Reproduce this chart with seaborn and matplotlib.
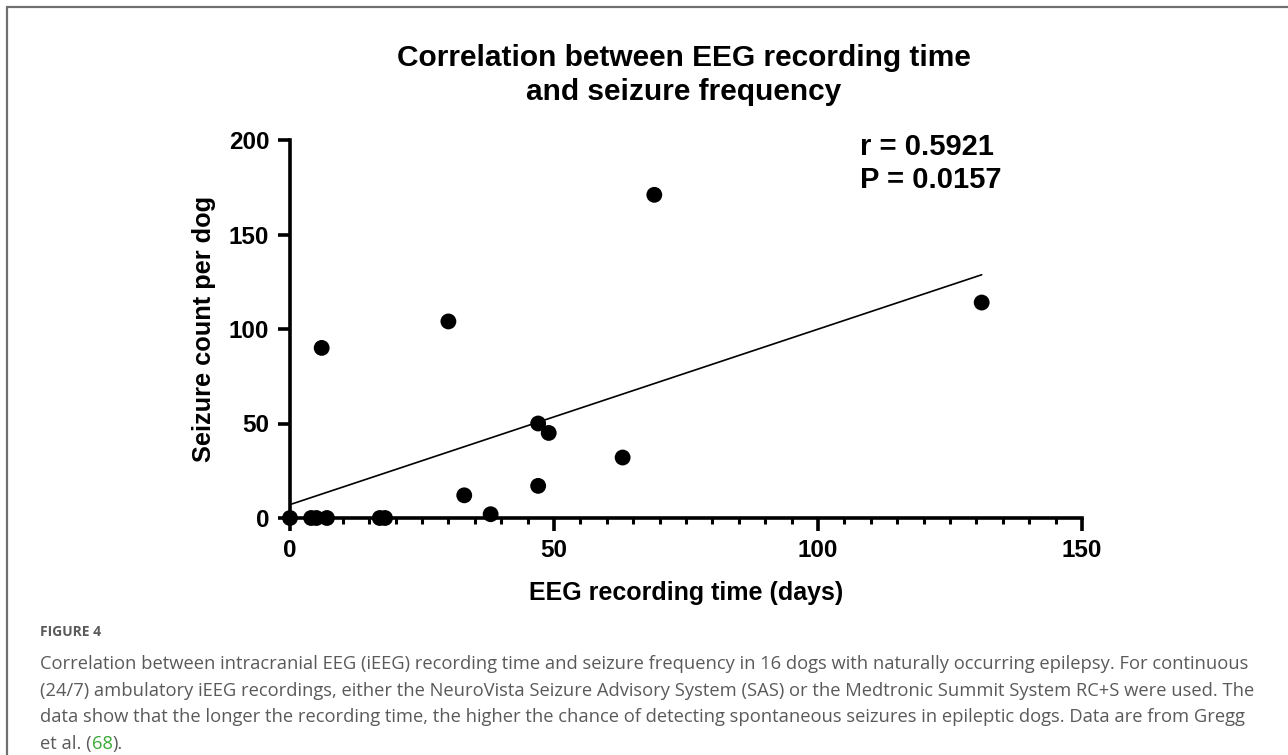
import numpy as np
import pandas as pd
import seaborn as sns
import matplotlib
matplotlib.use("Agg")
import matplotlib.pyplot as plt
from matplotlib.lines import Line2D
from matplotlib.ticker import MultipleLocator

# ---- data ----
recording_days = [0, 4, 5, 7, 17, 18, 6, 30, 33, 38, 47, 49, 47, 63, 69, 131]
seizure_count = [0, 0, 0, 0, 0, 0, 90, 104, 12, 2, 50, 45, 17, 32, 171, 114]
stats_lines = ["r = 0.5921", "P = 0.0157"]
title_text = "Correlation between EEG recording time\nand seizure frequency"
x_label = "EEG recording time (days)"
y_label = "Seizure count per dog"
x_ticks = [0, 50, 100, 150]
y_ticks = [0, 50, 100, 150, 200]
caption_head = "FIGURE 4"
caption_lines = [
    "Correlation between intracranial EEG (iEEG) recording time and seizure frequency in 16 dogs with naturally occurring epilepsy. For continuous",
    "(24/7) ambulatory iEEG recordings, either the NeuroVista Seizure Advisory System (SAS) or the Medtronic Summit System RC+S were used. The",
    "data show that the longer the recording time, the higher the chance of detecting spontaneous seizures in epileptic dogs. Data are from Gregg",
]
caption_last = ["et al. (", "68", ")."]

df = pd.DataFrame({"days": recording_days, "seizures": seizure_count})

sns.set_style("ticks")
plt.rcParams["font.family"] = ["Liberation Sans", "DejaVu Sans"]
plt.rcParams["text.color"] = "black"
plt.rcParams["axes.labelcolor"] = "black"
plt.rcParams["xtick.color"] = "black"
plt.rcParams["ytick.color"] = "black"

W, H = 1288, 755
fig = plt.figure(figsize=(W / 100, H / 100), dpi=100)
fig.patch.set_facecolor("white")

ax = fig.add_axes([290 / W, 1 - 518 / H, (1082 - 290) / W, (518 - 140) / H])
sns.regplot(data=df, x="days", y="seizures", ax=ax, ci=None, truncate=True,
            scatter_kws=dict(s=130, color="black", alpha=1, edgecolor="none",
                             clip_on=False, zorder=5),
            line_kws=dict(color="black", lw=1.2, zorder=4))

ax.set_xlim(0, 150)
ax.set_ylim(0, 200)
ax.set_xticks(x_ticks)
ax.set_yticks(y_ticks)
ax.xaxis.set_minor_locator(MultipleLocator(5))
sns.despine(ax=ax)
for s in ["left", "bottom"]:
    ax.spines[s].set_linewidth(2.6)
    ax.spines[s].set_color("black")
ax.tick_params(axis="both", which="major", length=9, width=2.6, color="black",
               labelcolor="black", labelsize=17.5, pad=6)
ax.tick_params(axis="x", which="minor", length=4.5, width=2.2, color="black")
for lab in ax.get_xticklabels() + ax.get_yticklabels():
    lab.set_fontweight("bold")
ax.set_xlabel(x_label, fontsize=18, fontweight="bold", labelpad=14, color="black")
ax.set_ylabel(y_label, fontsize=18.3, fontweight="bold", labelpad=9, color="black")
ax.set_facecolor("white")

ax.text(108.0, 196.5, stats_lines[0], fontsize=21, fontweight="bold", va="center",
        ha="left", color="black")
ax.text(108.0, 179.0, stats_lines[1], fontsize=21, fontweight="bold", va="center",
        ha="left", color="black")

fig.text(684 / W, 1 - 75 / H, title_text, ha="center", va="center", fontsize=21.5,
         fontweight="bold", linespacing=1.3, color="black")

# frame lines
fig.add_artist(Line2D([7 / W, 1.0], [1 - 7 / H, 1 - 7 / H], transform=fig.transFigure,
                      color="#707070", lw=1.6))
fig.add_artist(Line2D([7 / W, 7 / W], [1 - 7 / H, 0.0], transform=fig.transFigure,
                      color="#707070", lw=1.6))

cap_font = ["Open Sans", "DejaVu Sans"]
cap_color = "#5a5a5a"
cap_size = 13.25
fig.text(40 / W, 1 - 632 / H, caption_head, ha="left", va="center", fontsize=10,
         fontweight="bold", color=cap_color, family=cap_font)
line_y = [664, 691, 717.5]
for yy, line in zip(line_y, caption_lines):
    fig.text(40 / W, 1 - yy / H, line, ha="left", va="center", fontsize=cap_size,
             color=cap_color, family=cap_font)

fig.canvas.draw()
renderer = fig.canvas.get_renderer()
x_px = 40
colors = [cap_color, "#3aaa35", cap_color]
for part, col in zip(caption_last, colors):
    t = fig.text(x_px / W, 1 - 744 / H, part, ha="left", va="center", fontsize=cap_size,
                 color=col, family=cap_font)
    bb = t.get_window_extent(renderer=renderer)
    x_px += bb.width

fig.savefig("out.png", dpi=100, facecolor="white")
